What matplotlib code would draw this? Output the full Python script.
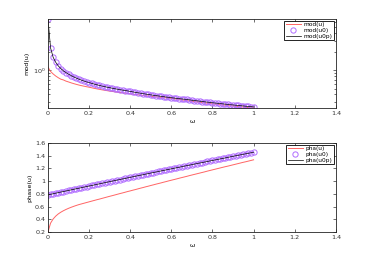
import matplotlib
matplotlib.use("Agg")
import matplotlib.pyplot as plt
import numpy as np
from matplotlib.ticker import LogLocator, NullFormatter, FixedLocator

# sample grid on the frequency axis (81 samples from 0 to 1)
omega = np.linspace(0.0, 1.0, 81)

# magnitude
mod_u = [
    1.12, 0.95, 0.865, 0.80, 0.75, 0.71, 0.69, 0.66, 0.640, 0.619,
    0.601, 0.585, 0.570, 0.557, 0.546, 0.535, 0.525, 0.514, 0.503, 0.494,
    0.485, 0.476, 0.469, 0.461, 0.454, 0.448, 0.442, 0.436, 0.430, 0.425,
    0.420, 0.415, 0.410, 0.405, 0.400, 0.395, 0.390, 0.385, 0.381, 0.377,
    0.373, 0.369, 0.365, 0.362, 0.358, 0.355, 0.351, 0.348, 0.345, 0.340,
    0.335, 0.331, 0.326, 0.322, 0.317, 0.313, 0.309, 0.305, 0.302, 0.298,
    0.295, 0.291, 0.288, 0.285, 0.281, 0.278, 0.275, 0.272, 0.269, 0.267,
    0.264, 0.261, 0.259, 0.256, 0.254, 0.251, 0.249, 0.247, 0.244, 0.242,
    0.240,
]
mod_u0 = [
    6.8, 2.30, 1.62, 1.34, 1.17, 1.06, 0.97, 0.91, 0.857, 0.812,
    0.774, 0.741, 0.712, 0.686, 0.663, 0.642, 0.625, 0.607, 0.591, 0.576,
    0.562, 0.549, 0.537, 0.526, 0.516, 0.506, 0.496, 0.488, 0.479, 0.471,
    0.464, 0.457, 0.448, 0.441, 0.433, 0.426, 0.419, 0.412, 0.406, 0.400,
    0.394, 0.388, 0.383, 0.378, 0.373, 0.368, 0.363, 0.359, 0.354, 0.350,
    0.346, 0.342, 0.338, 0.335, 0.331, 0.327, 0.322, 0.318, 0.315, 0.311,
    0.307, 0.303, 0.300, 0.297, 0.293, 0.290, 0.287, 0.284, 0.281, 0.278,
    0.275, 0.272, 0.270, 0.267, 0.265, 0.262, 0.260, 0.257, 0.255, 0.253,
    0.250,
]
mod_u0p = mod_u0

# phase
pha_u = [
    0.200, 0.340, 0.405, 0.450, 0.485, 0.512, 0.535, 0.555, 0.573, 0.589,
    0.604, 0.618, 0.631, 0.642, 0.653, 0.664, 0.675, 0.686, 0.697, 0.708,
    0.718, 0.729, 0.740, 0.751, 0.762, 0.772, 0.783, 0.794, 0.805, 0.815,
    0.826, 0.837, 0.847, 0.858, 0.868, 0.879, 0.890, 0.900, 0.911, 0.921,
    0.932, 0.942, 0.953, 0.963, 0.973, 0.984, 0.994, 1.005, 1.015, 1.025,
    1.035, 1.046, 1.056, 1.066, 1.076, 1.087, 1.097, 1.107, 1.117, 1.127,
    1.137, 1.147, 1.158, 1.168, 1.178, 1.188, 1.198, 1.208, 1.218, 1.228,
    1.237, 1.247, 1.257, 1.267, 1.277, 1.287, 1.297, 1.306, 1.316, 1.326,
    1.336,
]
pha_u0 = [
    0.785, 0.794, 0.802, 0.811, 0.820, 0.829, 0.837, 0.846, 0.855, 0.863,
    0.872, 0.881, 0.889, 0.898, 0.907, 0.915, 0.924, 0.932, 0.941, 0.950,
    0.958, 0.967, 0.975, 0.984, 0.992, 1.001, 1.009, 1.018, 1.026, 1.035,
    1.043, 1.052, 1.060, 1.069, 1.077, 1.086, 1.094, 1.102, 1.111, 1.119,
    1.128, 1.136, 1.144, 1.153, 1.161, 1.169, 1.178, 1.186, 1.194, 1.203,
    1.211, 1.219, 1.227, 1.236, 1.244, 1.252, 1.260, 1.269, 1.277, 1.285,
    1.293, 1.301, 1.310, 1.318, 1.326, 1.334, 1.342, 1.350, 1.358, 1.366,
    1.375, 1.383, 1.391, 1.399, 1.407, 1.415, 1.423, 1.431, 1.439, 1.447,
    1.455,
]
pha_u0p = pha_u0

x_ticks = [0, 0.2, 0.4, 0.6, 0.8, 1, 1.2, 1.4]
x_tick_labels = ["0", "0.2", "0.4", "0.6", "0.8", "1", "1.2", "1.4"]
pha_ticks = [0.2, 0.4, 0.6, 0.8, 1.0, 1.2, 1.4, 1.6]
pha_tick_labels = ["0.2", "0.4", "0.6", "0.8", "1", "1.2", "1.4", "1.6"]

RED = "#ff6464"
PURPLE = "#b06cff"
FS = 4.6

fig = plt.figure(figsize=(3.70, 2.61), dpi=100)
fig.patch.set_facecolor("white")
ax1 = fig.add_axes([0.1297, 0.586, 0.778, 0.341])
ax2 = fig.add_axes([0.1297, 0.111, 0.778, 0.341])


def style_axes(ax):
    ax.tick_params(which="both", direction="in", top=True, right=True,
                   labelsize=FS, colors="#333333", width=0.5, pad=2)
    ax.tick_params(which="major", length=2.2)
    ax.tick_params(which="minor", length=1.2)
    for spine in ax.spines.values():
        spine.set_linewidth(0.6)
        spine.set_color("#222222")
    ax.set_xlim(0, 1.4)
    ax.xaxis.set_major_locator(FixedLocator(x_ticks))
    ax.set_xticklabels(x_tick_labels)
    ax.set_xlabel("ω", fontsize=FS, labelpad=2)


def add_legend(ax):
    leg = ax.legend(loc="upper right", fontsize=4.2, fancybox=False,
                    framealpha=1, edgecolor="black", borderpad=0.25,
                    handlelength=2.6, labelspacing=0.1, handletextpad=0.5,
                    borderaxespad=0.3)
    leg.get_frame().set_linewidth(0.6)
    return leg


# top panel: magnitude
ax1.plot(omega, mod_u, color=RED, lw=0.7, label="mod(u)")
ax1.plot(omega, mod_u0, ls="none", marker="o", ms=3.8, mfc="none",
         mec=PURPLE, mew=0.7, label="mod(u0)")
ax1.plot(omega, mod_u0p, color="black", lw=0.5, label="mod(u0p)")
ax1.set_yscale("log")
ax1.set_ylim(min(mod_u), max(mod_u0))
ax1.yaxis.set_major_locator(LogLocator(base=10))
ax1.yaxis.set_minor_locator(LogLocator(base=10, subs=np.arange(2, 10)))
ax1.yaxis.set_minor_formatter(NullFormatter())
ax1.set_ylabel("mod(u)", fontsize=FS, labelpad=2)
style_axes(ax1)
add_legend(ax1)

# bottom panel: phase
ax2.plot(omega, pha_u, color=RED, lw=0.7, label="pha(u)")
ax2.plot(omega, pha_u0, ls="none", marker="o", ms=3.8, mfc="none",
         mec=PURPLE, mew=0.7, label="pha(u0)")
ax2.plot(omega, pha_u0p, color="black", lw=0.5, label="pha(u0p)")
ax2.set_ylim(0.2, 1.6)
ax2.yaxis.set_major_locator(FixedLocator(pha_ticks))
ax2.set_yticklabels(pha_tick_labels)
ax2.set_ylabel("phase(u)", fontsize=FS, labelpad=2)
style_axes(ax2)
add_legend(ax2)

fig.savefig("out.png", dpi=100, facecolor="white")
